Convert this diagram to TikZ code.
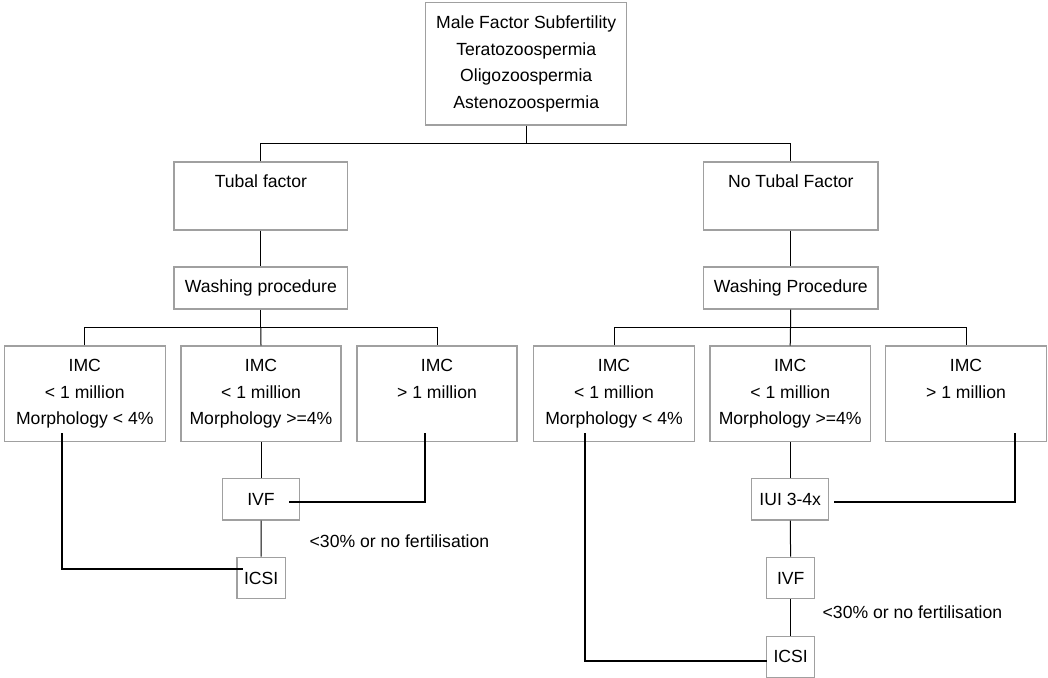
\documentclass[tikz,border=0pt]{standalone}
\usepackage{fontspec}
\setmainfont{Liberation Sans}
\definecolor{boxgray}{HTML}{A0A0A0}
\tikzset{
  box/.style={draw=boxgray, line width=0.6pt, inner sep=0pt, align=center,
    font=\fontsize{8.8}{13.35}\selectfont},
  link/.style={draw=black, line width=0.5pt},
  thicklink/.style={draw=black, line width=1pt},
  note/.style={anchor=west, inner sep=0pt, font=\fontsize{8.8}{13.35}\selectfont}
}
\begin{document}
\begin{tikzpicture}[x=0.5pt,y=-0.5pt]
\useasboundingbox (0,0) rectangle (1048,678);
% Diagnosis box
\node[box, minimum width=100.5pt, minimum height=61.2pt] (male) at (526.2,63.9)
  {Male Factor Subfertility\\Teratozoospermia\\Oligozoospermia\\Astenozoospermia};
% Tubal factor branch
\node[box, minimum width=86.9pt, minimum height=34pt] (tubal) at (260.9,196) {Tubal factor\\\vphantom{y}};
\node[box, minimum width=86.9pt, minimum height=21pt] (washA) at (260.9,288) {Washing procedure};
\node[box, minimum width=80.5pt, minimum height=47.6pt] (imcA1) at (84.8,393.7) {IMC\\< 1 million\\Morphology < 4\%};
\node[box, minimum width=80pt, minimum height=47.6pt] (imcA2) at (261,393.7) {IMC\\< 1 million\\Morphology >=4\%};
\node[box, minimum width=80pt, minimum height=47.6pt] (imcA3) at (437,393.7) {IMC\\> 1 million\\\vphantom{y}};
\node[box, minimum width=38.3pt, minimum height=20.8pt] (ivfA) at (261,499.2) {IVF};
\node[box, minimum width=24.2pt, minimum height=20.7pt] (icsiA) at (261.2,578) {ICSI};
\node[note] (failA) at (309.3,541) {<30\% or no fertilisation};
% No tubal factor branch
\node[box, minimum width=87.2pt, minimum height=34pt] (notubal) at (790.8,196) {No Tubal Factor\\\vphantom{y}};
\node[box, minimum width=87.2pt, minimum height=21pt] (washB) at (790.8,288) {Washing Procedure};
\node[box, minimum width=80.3pt, minimum height=47.6pt] (imcB1) at (614,393.7) {IMC\\< 1 million\\Morphology < 4\%};
\node[box, minimum width=80.2pt, minimum height=47.6pt] (imcB2) at (790.2,393.7) {IMC\\< 1 million\\Morphology >=4\%};
\node[box, minimum width=80.3pt, minimum height=47.6pt] (imcB3) at (966,393.7) {IMC\\> 1 million\\\vphantom{y}};
\node[box, minimum width=38.5pt, minimum height=20.8pt] (iuiB) at (790.2,499.2) {IUI 3-4x};
\node[box, minimum width=24pt, minimum height=20.7pt] (ivfB) at (790.7,578) {IVF};
\node[box, minimum width=24pt, minimum height=20.5pt] (icsiB) at (790.7,656.8) {ICSI};
\node[note] (failB) at (822.3,612.7) {<30\% or no fertilisation};
% Forks
\coordinate (fork) at (526.2,143.3);
\coordinate (forkA) at (260.9,327.7);
\coordinate (forkB) at (790.5,327.7);
\draw[link] (male) -- (fork);
\draw[link] (tubal.north) |- (fork) -| (notubal.north);
\draw[link] (tubal) -- (washA);
\draw[link] (washA) -- (forkA);
\draw[link] (imcA1.north) |- (forkA) -| (imcA3.north);
\draw[link] (forkA) -- (imcA2.north);
\draw[link] (notubal) -- (washB);
\draw[link] (washB) -- (forkB);
\draw[link] (imcB1.north) |- (forkB) -| (imcB3.north);
\draw[link] (forkB) -- (imcB2.north);
% Treatment steps
\draw[link] (imcA2) -- (ivfA);
\draw[link] (ivfA) -- (icsiA);
\draw[link] (imcB2) -- (iuiB);
\draw[link] (iuiB) -- (ivfB);
\draw[link] (ivfB) -- (icsiB);
% Bypass lines
\coordinate (outA1) at (62,433.3);
\coordinate (inA1) at (243.3,569.3);
\coordinate (outA3) at (425,433.3);
\coordinate (inA3) at (288.7,501.7);
\coordinate (outB1) at (584.7,433.3);
\coordinate (inB1) at (766.7,661);
\coordinate (outB3) at (1014.7,433.3);
\coordinate (inB3) at (833.7,501.7);
\draw[thicklink] (outA1) |- (inA1);
\draw[thicklink] (outA3) |- (inA3);
\draw[thicklink] (outB1) |- (inB1);
\draw[thicklink] (outB3) |- (inB3);
\end{tikzpicture}
\end{document}
